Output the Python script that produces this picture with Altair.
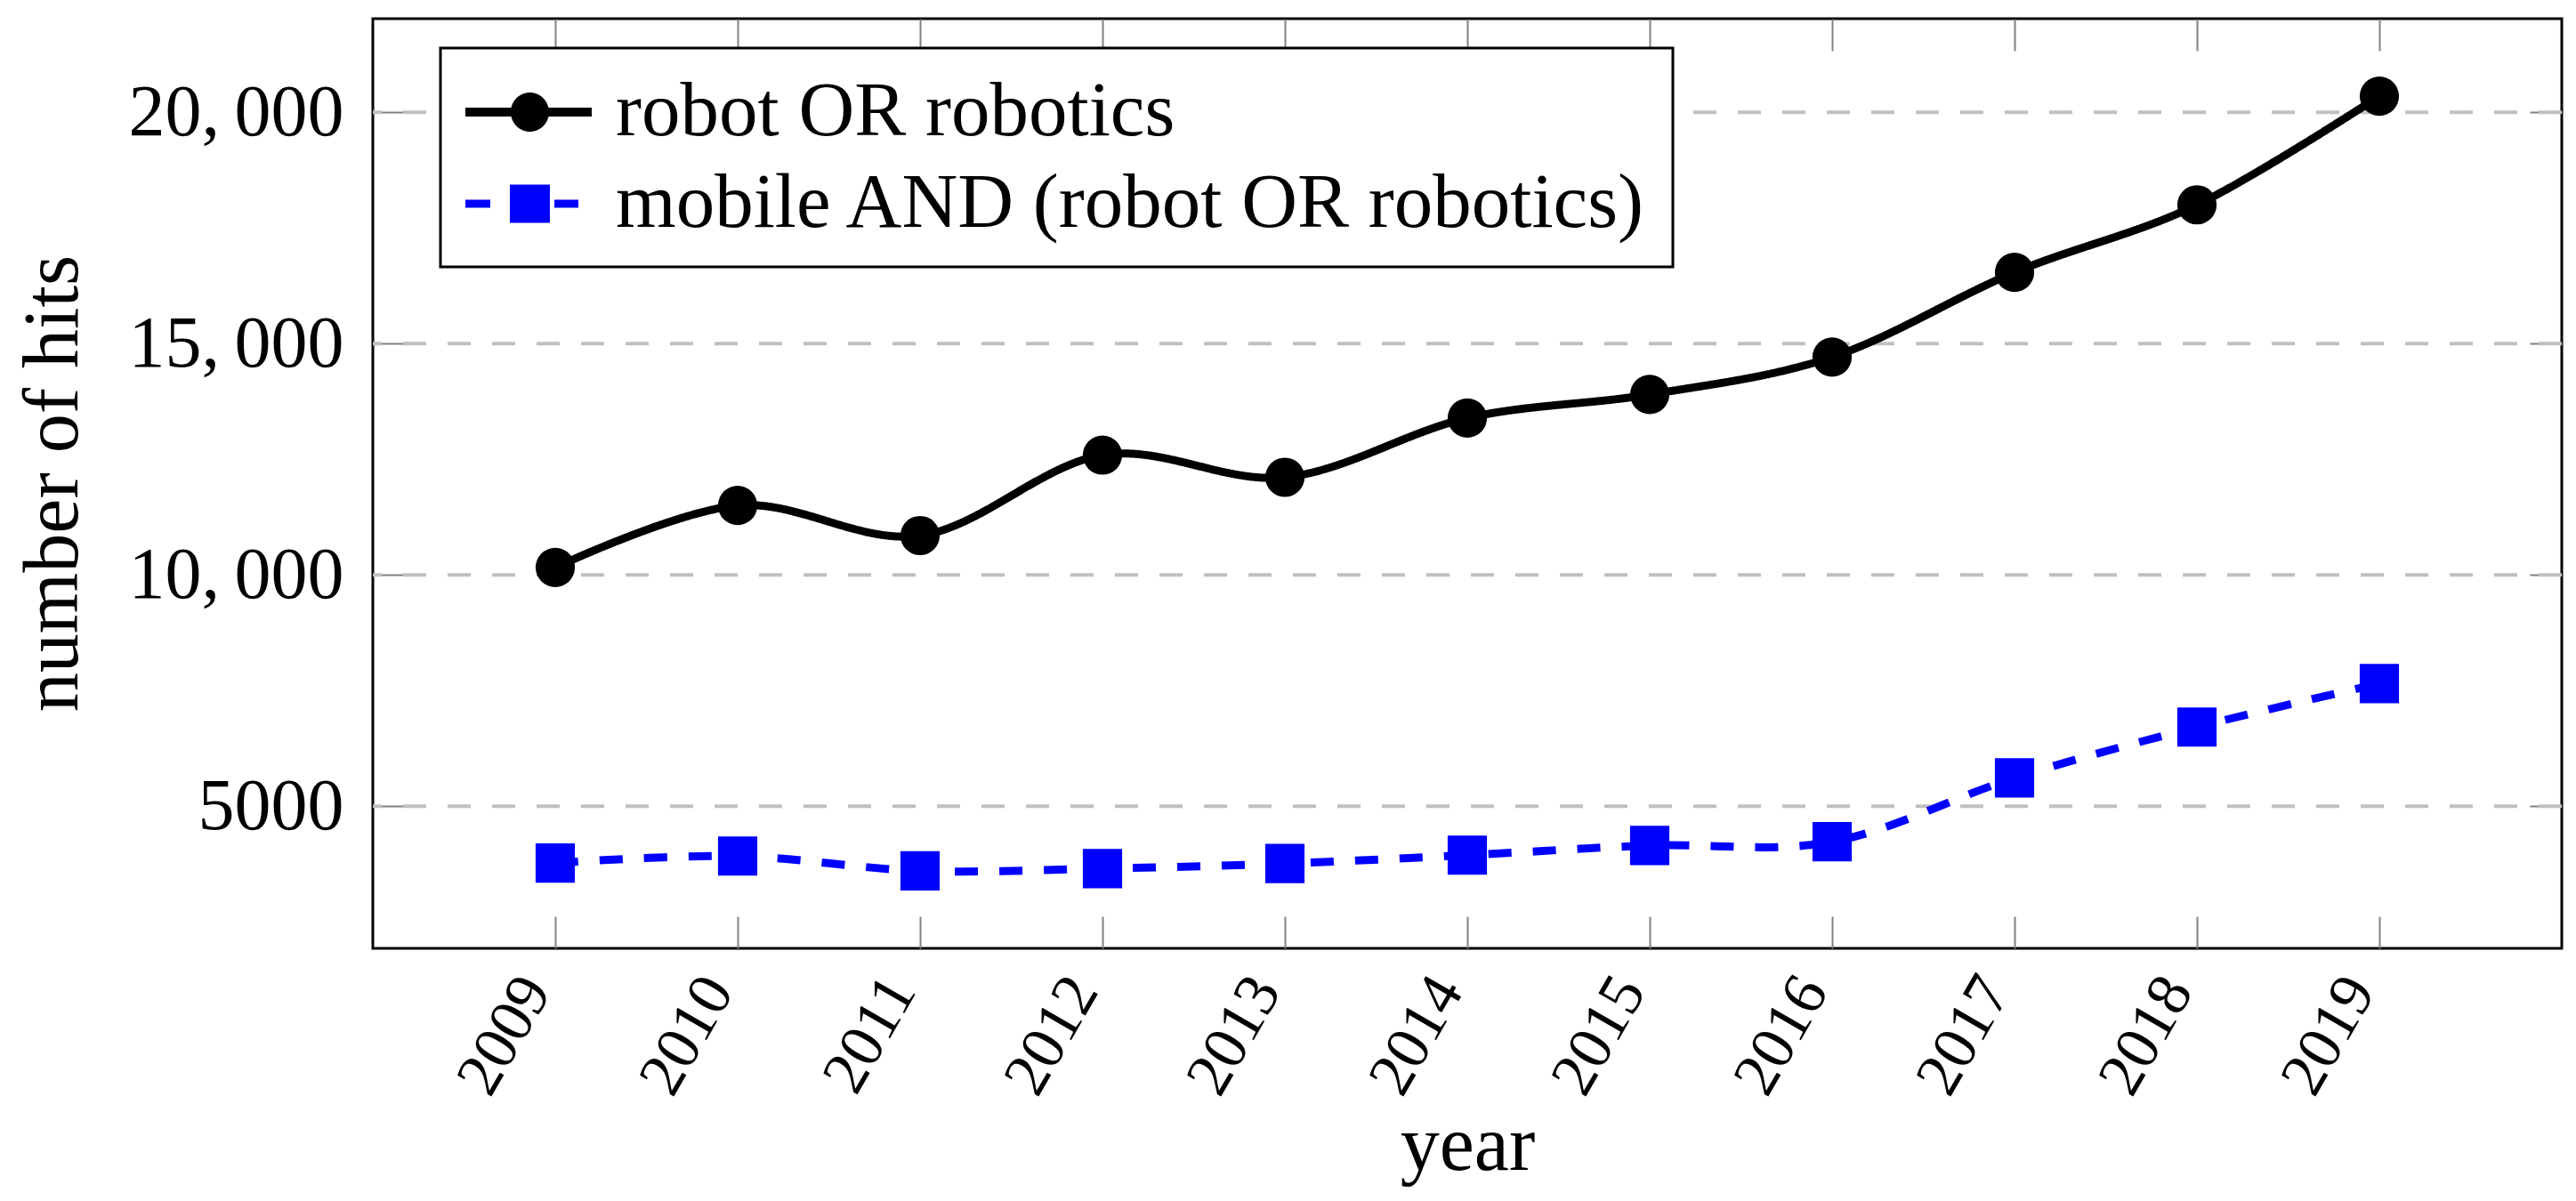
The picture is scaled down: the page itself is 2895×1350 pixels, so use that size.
import altair as alt
import pandas as pd

# ---- data ----
years = [2009, 2010, 2011, 2012, 2013, 2014, 2015, 2016, 2017, 2018, 2019]
robot_hits = [10160, 11500, 10850, 12590, 12110, 13390, 13900, 14710, 16540, 18000, 20350]
mobile_hits = [3770, 3920, 3600, 3650, 3760, 3940, 4150, 4230, 5610, 6710, 7650]
series_names = ["robot OR robotics", "mobile AND (robot OR robotics)"]
series_colors = ["black", "blue"]
y_ticks = [5000, 10000, 15000, 20000]

rows = []
for name, vals in zip(series_names, [robot_hits, mobile_hits]):
    for yr, v in zip(years, vals):
        rows.append({"year": yr, "hits": v, "series": name})
df = pd.DataFrame(rows)
grid_df = pd.DataFrame({"hits": y_ticks})

FONT = "Liberation Serif"
TICK_GRAY = "#808080"

x_scale = alt.Scale(domain=[2008, 2020], nice=False, zero=False)
y_scale = alt.Scale(domain=[1925, 22025], nice=False, zero=False)

# legend symbols: line + marker (symbol unit = 44 px, left edge at -1)
sym_black = ("M-1,-0.114H2.227V0.114H-1Z "
             "M0.159,0A0.489,0.5,0,1,1,1.137,0A0.489,0.5,0,1,1,0.159,0Z")
sym_blue = ("M-1,-0.102H-0.364V0.102H-1Z "
            "M1.273,-0.102H1.886V0.102H1.273Z "
            "M0.136,-0.489H1.159V0.489H0.136Z")

label_expr = ("datum.value >= 10000 ? replace(format(datum.value, ','), ',', ',\u2009') "
              ": format(datum.value, 'd')")

grid = alt.Chart(grid_df).mark_rule(
    color="#c0c0c0", strokeWidth=4, strokeDash=[26, 24]
).encode(
    y=alt.Y("hits:Q", scale=y_scale, axis=None)
)

lines = alt.Chart(df).mark_line(
    strokeWidth=9, interpolate="cardinal", strokeCap="butt"
).encode(
    x=alt.X("year:Q", scale=x_scale, axis=alt.Axis(
        orient="bottom", values=years, format="d", offset=-36, tickSize=36,
        tickColor=TICK_GRAY, tickWidth=2, domain=False, grid=False,
        labelAngle=-60, labelAlign="right", labelBaseline="middle",
        labelFont=FONT, labelFontSize=70, labelColor="black",
        labelPadding=37, labelOffset=-22, labelFlush=False,
        labelOverlap=False, labelBound=False, labelLimit=1000,
        title="year", titleFont=FONT, titleFontSize=88, titleFontWeight="normal",
        titleColor="black", titleX=1230, titleY=284, titleBaseline="alphabetic",
        titleAlign="center")),
    y=alt.Y("hits:Q", scale=y_scale, axis=alt.Axis(
        orient="left", values=y_ticks, offset=-36, tickSize=36,
        tickColor=TICK_GRAY, tickWidth=2, domain=False, grid=False,
        labelExpr=label_expr, labelFont=FONT, labelFontSize=82,
        labelColor="black", labelPadding=33, labelOverlap=False,
        labelBound=False, labelFlush=False, labelLimit=1000,
        title="number of hits", titleFont=FONT, titleFontSize=88,
        titleFontWeight="normal", titleColor="black", titleAngle=-90,
        titleX=-369, titleY=522, titleBaseline="alphabetic", titleAlign="center")),
    color=alt.Color("series:N", scale=alt.Scale(domain=series_names, range=series_colors), legend=None),
    strokeDash=alt.StrokeDash("series:N", scale=alt.Scale(domain=series_names, range=[[1, 0], [26, 24]]), legend=None),
    detail="series:N",
)

points = alt.Chart(df).mark_point(
    filled=True, opacity=1, strokeWidth=0, size=1950
).encode(
    x=alt.X("year:Q", scale=x_scale, axis=alt.Axis(
        orient="top", values=years, offset=-36, tickSize=36,
        tickColor=TICK_GRAY, tickWidth=2, domain=False, grid=False,
        labels=False, title="")),
    y=alt.Y("hits:Q", scale=y_scale, axis=alt.Axis(
        orient="right", values=y_ticks, offset=-36, tickSize=36,
        tickColor=TICK_GRAY, tickWidth=2, domain=False, grid=False,
        labels=False, title="")),
    color=alt.Color("series:N", scale=alt.Scale(domain=series_names, range=series_colors), legend=None),
    shape=alt.Shape("series:N", scale=alt.Scale(domain=series_names, range=["circle", "square"]), legend=None),
)

leg = alt.Legend(
    title=None, orient="none", legendX=76, legendY=33, direction="vertical",
    symbolSize=7744, symbolStrokeWidth=0, symbolOpacity=1,
    labelFont=FONT, labelFontSize=87, labelColor="black", labelLimit=3000,
    labelOffset=81, padding=28, rowPadding=16,
    fillColor="white", strokeColor="black",
)

legend_layer = alt.Chart(df).transform_filter("false").mark_point(
    filled=True, opacity=1, strokeWidth=0
).encode(
    color=alt.Color("series:N", scale=alt.Scale(domain=series_names, range=series_colors), legend=leg),
    shape=alt.Shape("series:N", scale=alt.Scale(domain=series_names, range=[sym_black, sym_blue]), legend=leg),
)

chart = alt.layer(grid, lines, points, legend_layer).resolve_scale(
    color="independent", shape="independent"
).resolve_axis(
    x="independent", y="independent"
).properties(
    width=2460, height=1045,
    padding={"left": 411, "top": 13, "right": 8, "bottom": 276},
    autosize=alt.AutoSizeParams(type="none"),
).configure(
    font=FONT
).configure_view(
    stroke="black", strokeWidth=3
).configure_legend(
    strokeWidth=3
)

chart.save("out.html", embed_options={"renderer": "svg", "actions": False})
